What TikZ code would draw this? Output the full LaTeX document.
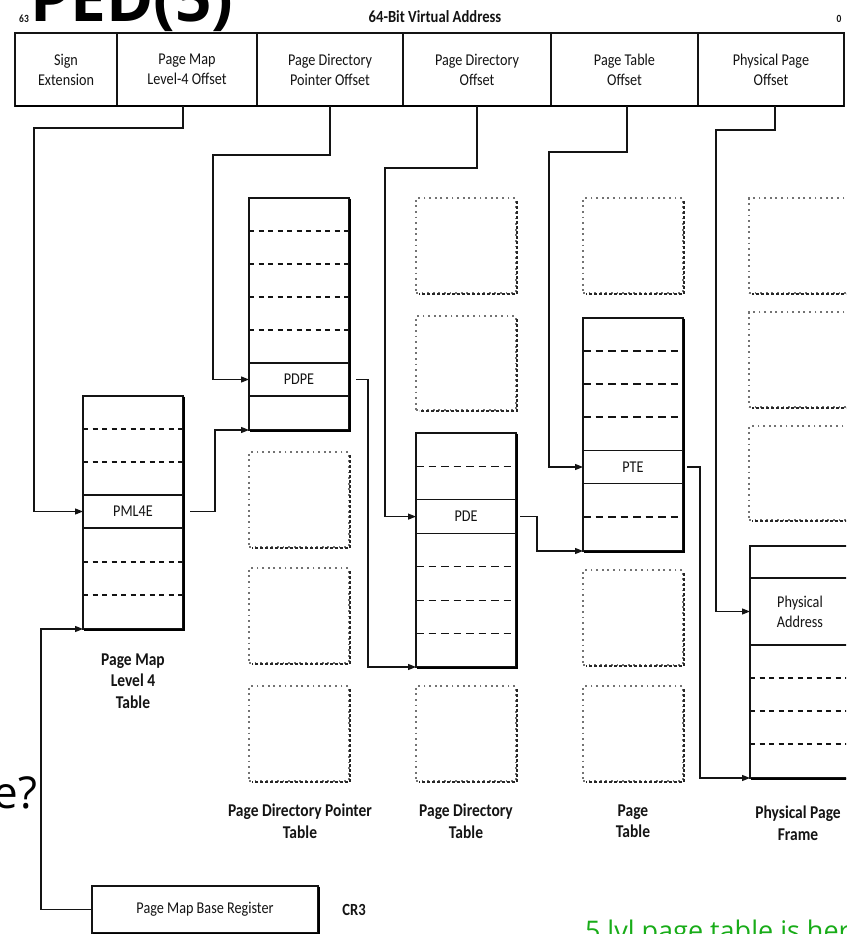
\documentclass[tikz,border=0pt]{standalone}
\usepackage{fontspec}
\setmainfont{Carlito}[FakeStretch=0.86]
\newfontfamily\slidefont{Open Sans}
\usetikzlibrary{arrows.meta}
\definecolor{slidegreen}{RGB}{24,172,24}
\definecolor{ink}{gray}{0.08}

% heavy right/bottom edge under a solid box
\newcommand\boxshadow[1]{%
  \draw[shadowline] ([xshift=1.2pt,yshift=-0.6pt]#1.north east) -- ([xshift=1.2pt,yshift=-1.2pt]#1.south east) -- ([xshift=0.6pt,yshift=-1.2pt]#1.south west);}
% dotted placeholder frame: name, left, top, width, height
\newcommand\ghostbox[5]{%
  \node[ghost, minimum width=#4pt, minimum height=#5pt, anchor=north west] (#1) at (#2,#3) {};
  \draw[ghostedge] ([xshift=1pt,yshift=-3pt]#1.north east) -- ([xshift=1pt,yshift=-1pt]#1.south east) -- ([xshift=3pt,yshift=-1pt]#1.south west);}

\begin{document}
\begin{tikzpicture}[x=1pt,y=-1pt,
  every node/.style={inner sep=0pt, outer sep=0pt, text=ink},
  txt/.style={font=\fontsize{16.5}{20}\selectfont, align=center},
  lbl/.style={font=\fontsize{18}{21.5}\selectfont\bfseries, align=center},
  cell/.style={draw=ink, line width=1.1pt, anchor=north west, minimum height=73pt, txt},
  tbl/.style={draw=ink, line width=1.2pt, anchor=north west, minimum width=100pt},
  entry/.style={draw=ink, line width=1.1pt, minimum width=100pt, txt},
  shadowline/.style={draw=black, line width=2.2pt},
  rowdash/.style={draw=ink, line width=1.1pt, dash pattern=on 5pt off 4.5pt},
  rowdashlong/.style={draw=ink, line width=1.2pt, dash pattern=on 7.5pt off 5pt},
  ghost/.style={draw=black!55, line width=1.6pt, dash pattern=on 1.8pt off 3.8pt},
  ghostedge/.style={draw=black!85, line width=1.8pt, dash pattern=on 3pt off 2pt},
  conn/.style={draw=ink, line width=1.2pt, -{Triangle[length=8pt,width=6pt]}}]

\useasboundingbox (0,0) rectangle (846,934);
\fill[white] (0,0) rectangle (846,934);
\clip (0,0) rectangle (846,934);

% ---------- slide overlay text ----------
\node[font=\slidefont\bfseries\fontsize{64}{64}\selectfont, text=black, anchor=base west] (ttl) at (30,22) {PED(5)};
\node[font=\slidefont\fontsize{44}{44}\selectfont, text=black, anchor=base east] (qtail) at (37,808) {e?};
\node[font=\slidefont\fontsize{27}{27}\selectfont, text=slidegreen, anchor=base west] (note) at (585,940) {5 lvl page table is here};

% ---------- virtual address ----------
\node[font=\fontsize{11}{11}\selectfont\bfseries] (hi) at (24,19) {63};
\node[font=\fontsize{11}{11}\selectfont\bfseries] (lo) at (839,19) {0};
\node[font=\fontsize{17}{17}\selectfont\bfseries] (va) at (435,17) {64-Bit Virtual Address};

\node[cell, minimum width=102pt] (hc1) at (15,33)  {Sign\\Extension};
\node[cell, minimum width=140pt] (hc2) at (117,33) {Page Map\\Level-4 Offset};
\node[cell, minimum width=146pt] (hc3) at (257,33) {Page Directory\\Pointer Offset};
\node[cell, minimum width=148pt] (hc4) at (403,33) {Page Directory\\Offset};
\node[cell, minimum width=147pt] (hc5) at (551,33) {Page Table\\Offset};
\node[cell, minimum width=146pt] (hc6) at (698,33) {Physical Page\\Offset};
\draw[shadowline] (hc1.south west) -- (hc6.south east);

% ---------- page map level 4 table ----------
\node[tbl, minimum height=233pt] (pml4) at (83,396) {};
\foreach \yy in {429,462,562,595} \draw[rowdash] (83,\yy) -- (183,\yy);
\node[entry, minimum height=33pt] (pml4e) at (133,511.5) {PML4E};
\boxshadow{pml4}
\node[lbl] (pml4lbl) at (133,681) {Page Map\\Level 4\\Table};

% ---------- page directory pointer table ----------
\node[tbl, minimum height=232pt] (pdpt) at (249,198) {};
\foreach \yy in {231,264,297,330} \draw[rowdash] (249,\yy) -- (349,\yy);
\node[entry, minimum height=33pt] (pdpe) at (299,379.5) {PDPE};
\boxshadow{pdpt}
\ghostbox{pdptA}{249}{452}{100}{95}
\ghostbox{pdptB}{249}{568}{100}{95}
\ghostbox{pdptC}{249}{686}{100}{95}
\node[lbl] (pdptlbl) at (300,821) {Page Directory Pointer\\Table};

% ---------- page directory table ----------
\ghostbox{pdA}{416}{198}{100}{95}
\ghostbox{pdB}{416}{316}{100}{94}
\node[tbl, minimum height=234pt] (pd) at (416,433) {};
\foreach \yy in {466.4,566.7,600.1,633.6} \draw[rowdashlong] (416,\yy) -- (516,\yy);
\node[entry, minimum height=33.4pt] (pde) at (466,516.6) {PDE};
\boxshadow{pd}
\ghostbox{pdC}{416}{686}{100}{95}
\node[lbl] (pdlbl) at (466,821) {Page Directory\\Table};

% ---------- page table ----------
\ghostbox{ptA}{583}{198}{100}{95}
\node[tbl, minimum height=233pt] (pt) at (583,318) {};
\foreach \yy in {351,384,417,517} \draw[rowdashlong] (583,\yy) -- (683,\yy);
\node[entry, minimum height=33pt] (pte) at (633,467) {PTE};
\boxshadow{pt}
\ghostbox{ptB}{583}{570}{100}{95}
\ghostbox{ptC}{583}{686}{100}{95}
\node[lbl] (ptlbl) at (633,821) {Page\\Table};

% ---------- physical page frame ----------
\ghostbox{ppA}{749}{198}{101}{95}
\ghostbox{ppB}{749}{312}{101}{95}
\ghostbox{ppC}{749}{426}{101}{94}
\node[tbl, minimum height=232pt] (ppf) at (750,546) {};
\foreach \yy in {678,711,744} \draw[rowdash] (750,\yy) -- (850,\yy);
\node[entry, minimum height=67pt] (pa) at (800,611.5) {Physical\\Address};
\boxshadow{ppf}
\node[lbl] (ppflbl) at (798,823) {Physical Page\\Frame};

% ---------- CR3 ----------
\node[draw=ink, line width=1.1pt, minimum width=226pt, minimum height=47pt, txt] (cr3) at (205,909.5) {Page Map Base Register};
\boxshadow{cr3}
\node[font=\fontsize{17}{17}\selectfont\bfseries] (cr3lbl) at (354,910) {CR3};

% ---------- offsets into the tables ----------
\draw[conn] ([xshift=-4pt]hc2.south) |- (34,128) |- (pml4e.west);
\draw[conn] (hc3.south) |- (213,155) |- (pdpe.west);
\draw[conn] (hc4.south) |- (385,168) |- (pde.west);
\draw[conn] ([xshift=2.5pt]hc5.south) |- (549,152) |- (pte.west);
\draw[conn] ([xshift=4pt]hc6.south) |- (716,130) |- (pa.west);

% ---------- table-to-table links ----------
\draw[conn] ([xshift=7pt]pml4e.east) -- ++(25,0) |- (pdpt.south west);
\draw[conn] ([xshift=7pt]pdpe.east) -- ++(12,0) |- (pd.south west);
\draw[conn] ([xshift=4pt]pde.east) -- ++(17,0) |- (pt.south west);
\draw[conn] ([xshift=4pt]pte.east) -- ++(13,0) |- (ppf.south west);
\draw[conn] (cr3.west) -- ++(-51,0) |- (pml4.south west);
\end{tikzpicture}
\end{document}
